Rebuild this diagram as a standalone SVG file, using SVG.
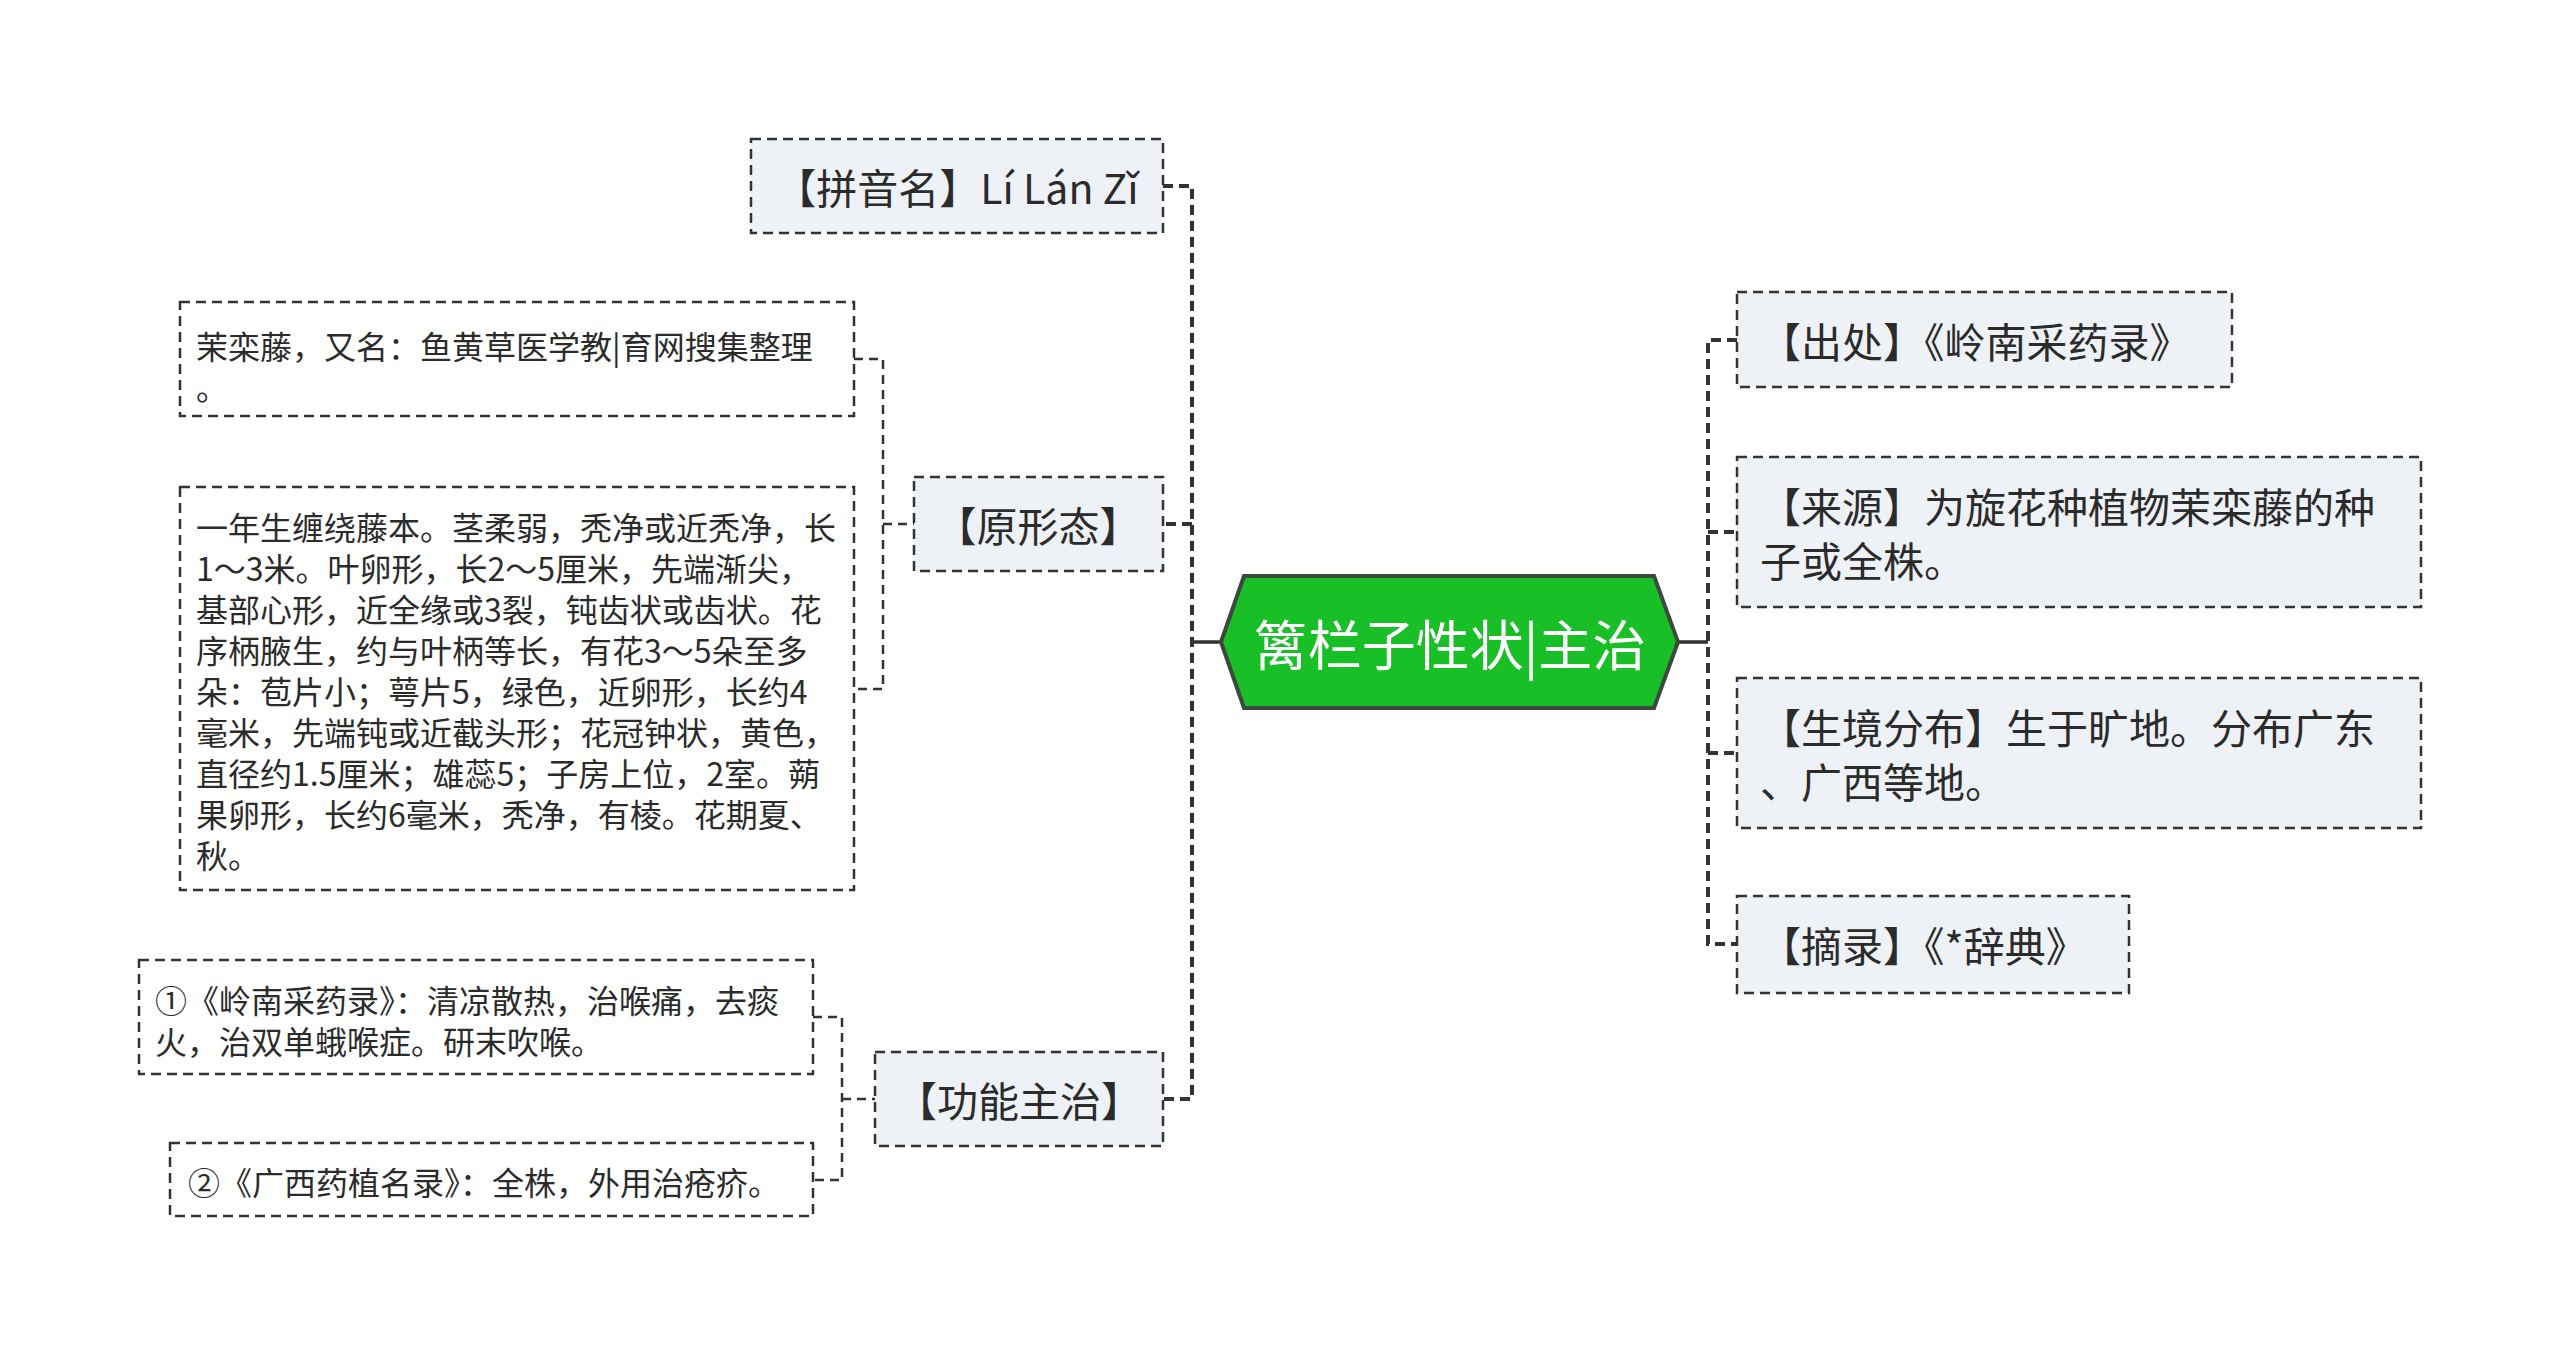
<svg xmlns="http://www.w3.org/2000/svg" width="2560" height="1355" viewBox="0 0 2560 1355">
<style>
.bg{fill:#ffffff}
.node{fill:#eef1f5;stroke:#333;stroke-width:2.5;stroke-dasharray:10 6}
.note{fill:#ffffff;stroke:#333;stroke-width:2.5;stroke-dasharray:10 6}
.t{font-family:"Noto Sans CJK SC","Noto Sans",sans-serif;fill:#2b2b2b;dominant-baseline:central}
.tn{font-size:41px}
.ts{font-size:32px}
.trunk{fill:none;stroke:#333;stroke-width:4;stroke-dasharray:10 6}
.sub{fill:none;stroke:#333;stroke-width:2.5;stroke-dasharray:9 6}
.solid{fill:none;stroke:#333;stroke-width:3.5}
</style>
<rect class="bg" x="0" y="0" width="2560" height="1355"/>
<g id="connectors">
<path class="solid" d="M1221,642 H1192"/>
<path class="trunk" d="M1163,186 H1192 V1099 H1163"/>
<path class="trunk" d="M1192,524 H1163"/>
<path class="solid" d="M1678,642 H1708"/>
<path class="trunk" d="M1737,340 H1708 V944 H1737"/>
<path class="trunk" d="M1708,532 H1737"/>
<path class="trunk" d="M1708,753 H1737"/>
<path class="sub" d="M854,359 H883 V689 H854"/>
<path class="sub" d="M883,524 H914"/>
<path class="sub" d="M813,1017 H842 V1180 H813"/>
<path class="sub" d="M842,1099 H875"/>
</g>
<g id="center">
<polygon points="1221,642 1244,576 1654,576 1678,642 1654,708 1244,708" fill="#18bf27" stroke="#3c4a3d" stroke-width="4"/>
<text class="t" x="1450" y="642" font-size="54" text-anchor="middle" style="fill:#ffffff">篱栏子性状|主治</text>
</g>
<g id="pinyin">
<rect class="node" x="751" y="139" width="412" height="94"/>
<text class="t tn" x="957" y="186" text-anchor="middle">【拼音名】Lí Lán Zǐ</text>
</g>
<g id="yuanxingtai">
<rect class="node" x="914" y="477" width="249" height="94"/>
<text class="t tn" x="1038" y="524" text-anchor="middle">【原形态】</text>
</g>
<g id="note-alias">
<rect class="note" x="180" y="302" width="674" height="114"/>
<text class="t ts" x="196" y="345">茉栾藤，又名：鱼黄草医学教|育网搜集整理</text>
<text class="t ts" x="196" y="386">。</text>
</g>
<g id="note-morph">
<rect class="note" x="180" y="487" width="674" height="403"/>
<text class="t ts" x="196" y="526">一年生缠绕藤本。茎柔弱，秃净或近秃净，长</text>
<text class="t ts" x="196" y="567">1～3米。叶卵形，长2～5厘米，先端渐尖，</text>
<text class="t ts" x="196" y="608">基部心形，近全缘或3裂，钝齿状或齿状。花</text>
<text class="t ts" x="196" y="649">序柄腋生，约与叶柄等长，有花3～5朵至多</text>
<text class="t ts" x="196" y="690">朵：苞片小；萼片5，绿色，近卵形，长约4</text>
<text class="t ts" x="196" y="731">毫米，先端钝或近截头形；花冠钟状，黄色，</text>
<text class="t ts" x="196" y="772">直径约1.5厘米；雄蕊5；子房上位，2室。蒴</text>
<text class="t ts" x="196" y="813">果卵形，长约6毫米，秃净，有棱。花期夏、</text>
<text class="t ts" x="196" y="854">秋。</text>
</g>
<g id="gongneng">
<rect class="node" x="875" y="1052" width="288" height="94"/>
<text class="t tn" x="1019" y="1099" text-anchor="middle">【功能主治】</text>
</g>
<g id="note-func1">
<rect class="note" x="139" y="960" width="674" height="114"/>
<text class="t ts" x="155" y="999">①《岭南采药录》：清凉散热，治喉痛，去痰</text>
<text class="t ts" x="155" y="1040">火，治双单蛾喉症。研末吹喉。</text>
</g>
<g id="note-func2">
<rect class="note" x="170" y="1143" width="643" height="73"/>
<text class="t ts" x="188" y="1181">②《广西药植名录》：全株，外用治疮疥。</text>
</g>
<g id="chuchu">
<rect class="node" x="1737" y="292" width="495" height="95"/>
<text class="t tn" x="1760" y="340">【出处】《岭南采药录》</text>
</g>
<g id="laiyuan">
<rect class="node" x="1737" y="457" width="684" height="150"/>
<text class="t tn" x="1760" y="505">【来源】为旋花种植物茉栾藤的种</text>
<text class="t tn" x="1760" y="559">子或全株。</text>
</g>
<g id="shengjing">
<rect class="node" x="1737" y="678" width="684" height="150"/>
<text class="t tn" x="1760" y="726">【生境分布】生于旷地。分布广东</text>
<text class="t tn" x="1760" y="780">、广西等地。</text>
</g>
<g id="zhailu">
<rect class="node" x="1737" y="896" width="392" height="97"/>
<text class="t tn" x="1760" y="944">【摘录】《*辞典》</text>
</g>
</svg>
